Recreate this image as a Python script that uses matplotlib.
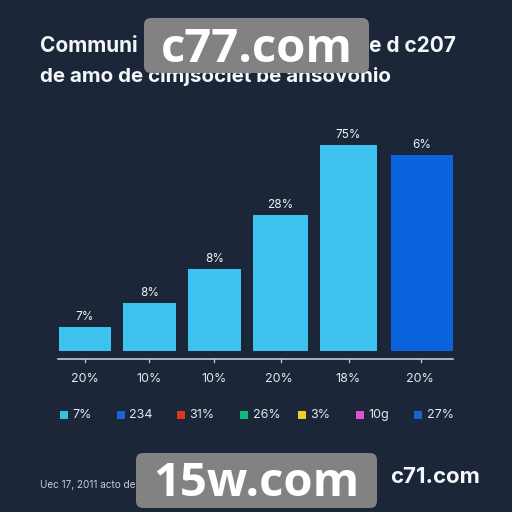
import matplotlib
matplotlib.use("Agg")
import matplotlib.pyplot as plt
from matplotlib.patches import FancyBboxPatch, Rectangle

BG = "#1b2638"
categories = ["20%", "10%", "10%", "20%", "18%", "20%"]
values = [24, 48, 82, 136, 206, 196]
bar_labels = ["7%", "8%", "8%", "28%", "75%", "6%"]
bar_lefts = [59, 123, 188, 253, 320, 391]
bar_rights = [111, 176, 241, 308, 377, 453]
bar_colors = ["#3ec3f1"] * 5 + ["#0a62dc"]
tick_pos = [85, 149, 214, 281, 349, 421]
cat_label_pos = [85, 149, 214, 279, 348, 420]
legend_labels = ["7%", "234", "31%", "26%", "3%", "10g", "27%"]
legend_colors = ["#35c3de", "#1565d8", "#e0341f", "#10b981", "#f2cf25", "#e44fd8", "#1565d8"]
legend_x = [60, 117, 177, 240, 298, 356, 414]

fig = plt.figure(figsize=(5.12, 5.12), dpi=100, facecolor=BG)
ax = fig.add_axes([0, 0, 1, 1])
ax.set_xlim(0, 512)
ax.set_ylim(512, 0)
ax.axis("off")

base = 351
ax.bar(bar_lefts, [-v for v in values], width=[r - l for l, r in zip(bar_lefts, bar_rights)],
       bottom=base, align="edge", color=bar_colors, linewidth=0)
for l, r, v, t in zip(bar_lefts, bar_rights, values, bar_labels):
    ax.text((l + r) / 2, base - v - 4.5, t, color="#eef2f6", fontsize=8.5, ha="center", va="bottom", family="Inter")

ax.plot([58, 453], [359, 359], color="#c3ccd8", lw=1.2)
for x, c, cx in zip(tick_pos, categories, cat_label_pos):
    ax.plot([x, x], [359, 362], color="#c3ccd8", lw=0.9)
    ax.text(cx, 378.5, c, color="#e3e8ee", fontsize=9, ha="center", va="center", family="Inter")

for x, c, t in zip(legend_x, legend_colors, legend_labels):
    ax.add_patch(Rectangle((x - 0.5, 411), 8.5, 8, color=c, lw=0))
    ax.text(x + 12.5, 415, t, color="#e3e8ee", fontsize=9, ha="left", va="center", family="Inter")

ax.text(40, 46, "Communi", color="#f4f7fa", fontsize=15, fontweight="bold", ha="left", va="center", family="Inter")
ax.text(456, 46, "e d c207", color="#f4f7fa", fontsize=15, fontweight="bold", ha="right", va="center", family="Inter")
ax.text(40, 77, "de amo de cimjsociet be ansovonio", color="#f4f7fa",
        fontsize=14.8, fontweight="bold", ha="left", va="center", family="Inter")
ax.text(40, 485, "Uec 17, 2011 acto de", color="#c3ccd6", fontsize=7.2, ha="left", va="center", family="Inter")
ax.text(390, 477, "c71.com", color="#f4f7fa", fontsize=16, fontweight="bold", ha="left", va="center", family="Inter")

for (x0, y0, x1, y1, t, ty) in [(144, 18, 369, 73, "c77.com", 49.5), (136, 453, 377, 508, "15w.com", 483)]:
    ax.add_patch(FancyBboxPatch((x0 + 7, y0 + 7), x1 - x0 - 14, y1 - y0 - 14,
                                boxstyle="round,pad=7,rounding_size=7", fc="#828282", ec="none", zorder=5))
    ax.text((x0 + x1) / 2, ty, t, color="white", fontsize=34, fontweight="bold", ha="center", va="center",
            family="Open Sans", zorder=6)

fig.savefig("out.png", dpi=100, facecolor=BG)
